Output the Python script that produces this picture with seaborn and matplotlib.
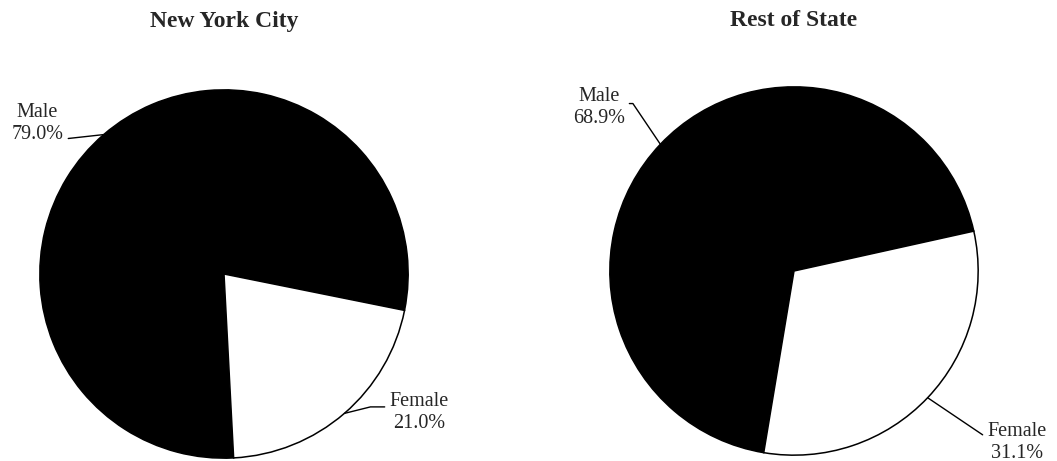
import numpy as np
import matplotlib
matplotlib.use("Agg")
import matplotlib.pyplot as plt
import seaborn as sns

# data
regions = ["New York City", "Rest of State"]
genders = ["Male", "Female"]
nyc_pct = [79.0, 21.0]
ros_pct = [68.9, 31.1]

sns.set_style("white")
plt.rcParams["font.family"] = ["Liberation Serif", "DejaVu Serif"]

W, H = 1057, 461
R = 186  # pie radius in pixels

# pie centre (px), start angle, label offsets/angles per slice
layout = [
    dict(cx=224, cy=274, start=-11.4,
         labels=[dict(px=62, py=122, ha="right", rel=(1, 0.12), conn="arc3,rad=0"),
                 dict(px=391, py=414, ha="left", rel=(0, 0.64), conn="angle,angleA=0,angleB=14,rad=0")]),
    dict(cx=794, cy=271, start=12.5,
         labels=[dict(px=623, py=106, ha="right", rel=(1, 0.6), conn="angle,angleA=0,angleB=124,rad=0"),
                 dict(px=989, py=444, ha="left", rel=(0, 0.64), conn="angle,angleA=0,angleB=-34,rad=0")]),
]

fig = plt.figure(figsize=(W / 100, H / 100), dpi=100)

for title, pct, lay in zip(regions, [nyc_pct, ros_pct], layout):
    cx, cy = lay["cx"], lay["cy"]
    ax = fig.add_axes([(cx - R) / W, (H - cy - R) / H, 2 * R / W, 2 * R / H])
    wedges, _ = ax.pie(pct, colors=["black", "white"], startangle=lay["start"],
                       counterclock=True, radius=1,
                       wedgeprops=dict(edgecolor="black", linewidth=1.1))
    ax.set_xlim(-1.01, 1.01)
    ax.set_ylim(-1.01, 1.01)
    ax.axis("off")

    # labels with leader lines to the middle of each slice
    for w, g, p, lab in zip(wedges, genders, pct, lay["labels"]):
        mid = np.deg2rad((w.theta1 + w.theta2) / 2)
        xy = (np.cos(mid), np.sin(mid))
        xt = ((lab["px"] - cx) / R, (cy - lab["py"]) / R)
        ax.annotate(f"{g}\n{p:.1f}%", xy=xy, xytext=xt, ha=lab["ha"], va="center",
                    multialignment="center", fontsize=14.5, annotation_clip=False,
                    arrowprops=dict(arrowstyle="-", color="black", lw=1.0,
                                    shrinkA=1, shrinkB=0, relpos=lab["rel"],
                                    connectionstyle=lab["conn"]))

    fig.text(cx / W, 1 - 21 / H, title, ha="center", va="center",
             fontsize=17, fontweight="bold")

fig.savefig("out.png", dpi=100)
